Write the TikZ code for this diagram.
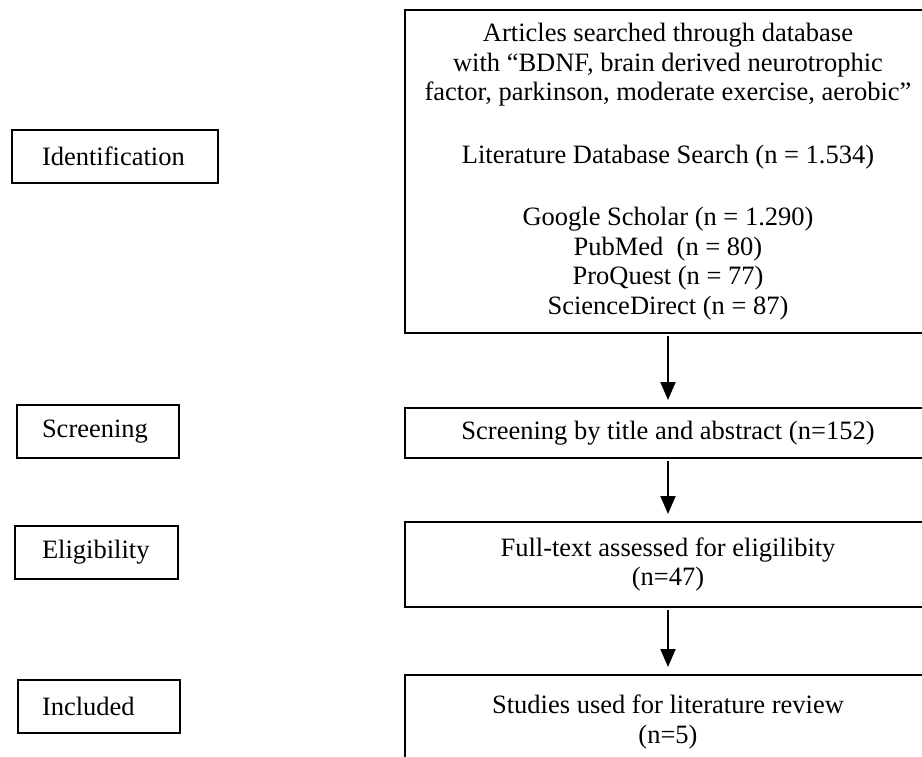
\documentclass[tikz,border=0pt]{standalone}
\usepackage{fontspec}
\setmainfont{Liberation Serif}
\usetikzlibrary{arrows.meta}
\begin{document}
\begin{tikzpicture}[x=1pt,y=-1pt,
  txt/.style={font=\fontsize{26.5}{29.5}\selectfont},
  rbox/.style={txt, draw, line width=2pt, inner sep=0pt, align=center, minimum width=526pt},
  lbox/.style={txt, draw, line width=2pt, inner ysep=0pt, minimum height=53pt, align=left, anchor=north west},
  arr/.style={line width=2pt, -{Triangle[length=18pt,width=15pt]}, shorten >=7pt, shorten <=2pt}]
\useasboundingbox (0,0) rectangle (922,757);
% left stage boxes
\node[lbox, inner xsep=30pt, text width=146pt] (lid) at (11,129) {Identification};
\node[lbox, inner xsep=25pt, text width=112pt] (lsc) at (16,404) {Screening};
\node[lbox, inner xsep=27pt, text width=109pt] (lel) at (14,525) {Eligibility};
\node[lbox, inner xsep=24pt, text width=114pt] (lin) at (17,679) {Included};
% right flow boxes (right edge runs past the page)
\node[rbox, minimum height=323pt] (top) at (668,171.5) {Articles searched through database\\
with “BDNF, brain derived neurotrophic\hspace*{16pt}\\
factor, parkinson, moderate exercise, aerobic”\\[33.5pt]
Literature Database Search (n = 1.534)\\[32.5pt]
Google Scholar (n = 1.290)\\
PubMed\ \ (n = 80)\\
ProQuest (n = 77)\\
ScienceDirect (n = 87)};
\node[rbox, minimum height=50pt] (scr) at (668,433) {Screening by title and abstract (n=152)};
\node[rbox, minimum height=85pt] (elg) at (668,564.5) {Full-text assessed for eligilibity\\(n=47)};
\node[rbox, minimum height=94pt] (inc) at (668,722) {Studies used for literature review\\(n=5)};
% connectors
\draw[arr] (top.south) -- (scr.north);
\draw[arr] (scr.south) -- (elg.north);
\draw[arr] (elg.south) -- (inc.north);
\end{tikzpicture}
\end{document}
